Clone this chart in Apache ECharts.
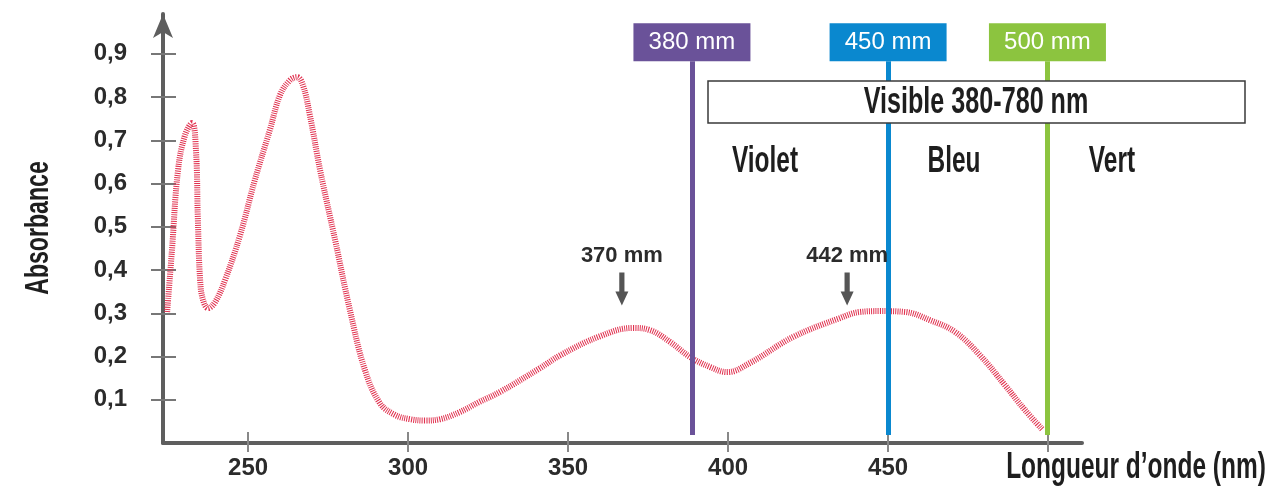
<!DOCTYPE html>
<html>
<head>
<meta charset="UTF-8">
<title>Absorbance</title>
<script src="https://cdn.jsdelivr.net/npm/echarts@6/dist/echarts.min.js"></script>
<style>
  html, body { margin: 0; padding: 0; background: #fff; }
  #chart { width: 1268px; height: 489px; }
</style>
</head>
<body>
<div id="chart"></div>
<script>
// spectre d'absorption
var wavelength = [224.7, 226.2, 228.1, 230.3, 232.5, 233.7, 234.3, 235.0, 235.9, 237.5, 239.7, 242.8, 247.5, 252.1, 256.8, 260.0, 263.1, 265.3, 267.1, 269.3, 272.5, 277.2, 281.8, 286.5, 291.2, 295.9, 300.6, 305.3, 310.0, 316.0, 322.0, 328.7, 341.2, 347.6, 360.0, 370.3, 375.6, 381.8, 388.1, 394.3, 399.7, 406.8, 420.3, 435.0, 441.2, 447.5, 455.3, 463.1, 470.9, 478.7, 486.5, 492.8, 498.4];
var absorbance = [0.303, 0.446, 0.631, 0.712, 0.740, 0.677, 0.516, 0.377, 0.331, 0.312, 0.326, 0.377, 0.481, 0.608, 0.724, 0.805, 0.839, 0.846, 0.828, 0.758, 0.631, 0.469, 0.308, 0.169, 0.092, 0.065, 0.055, 0.052, 0.055, 0.071, 0.094, 0.118, 0.173, 0.203, 0.247, 0.266, 0.261, 0.234, 0.199, 0.176, 0.164, 0.185, 0.245, 0.289, 0.303, 0.305, 0.303, 0.284, 0.257, 0.203, 0.134, 0.076, 0.030];

var xTicks = [250, 300, 350, 400, 450, 500];
var xLabels = [250, 300, 350, 400, 450];
var yTicks = [0.1, 0.2, 0.3, 0.4, 0.5, 0.6, 0.7, 0.8, 0.9];

// traits verticaux : position, texte, couleur
var markers = [
  { x: 388.7, text: '380 mm', color: '#6a5299' },
  { x: 450.0, text: '450 mm', color: '#0a88cf' },
  { x: 499.8, text: '500 mm', color: '#8cc43f' }
];
// fleches des maxima
var peaks = [
  { x: 366.8, text: '370 mm' },
  { x: 437.2, text: '442 mm' }
];

var plain = "'Liberation Sans', Arial, sans-serif";

var chart = echarts.init(document.getElementById('chart'));

var points = wavelength.map(function (w, i) { return [w, absorbance[i]]; });

var lineData = markers.map(function (m) {
  return [
    {
      coord: [m.x, 0.0185],
      lineStyle: { color: m.color, width: 5, type: 'solid' },
      label: {
        show: true,
        position: 'end',
        distance: 0,
        formatter: m.text,
        color: '#fff',
        backgroundColor: m.color,
        width: 117,
        height: 38,
        lineHeight: 38,
        align: 'center',
        fontSize: 24,
        fontFamily: plain
      }
    },
    { coord: [m.x, 0.883] }
  ];
});

var arrowData = peaks.map(function (p) {
  return {
    coord: [p.x, 0.356],
    label: {
      show: true,
      position: 'top',
      distance: 6,
      formatter: p.text,
      color: '#2b2b2b',
      fontSize: 22,
      fontWeight: 'bold',
      fontFamily: plain
    }
  };
});

// texte etroit : police normale comprimee horizontalement
function narrowText(txt, x, y, size, rot) {
  return {
    type: 'text', z: 101, x: x, y: y, rotation: rot || 0, scaleX: 0.68,
    style: { text: txt, align: 'center', verticalAlign: 'middle', fill: '#1e1e1e', font: 'bold ' + size + 'px ' + plain }
  };
}

option = {
  animation: false,
  grid: { left: 163, right: 186, top: 14, bottom: 46, containLabel: false, outerBoundsMode: 'none' },
  xAxis: [
    {
      type: 'value',
      min: 223.4,
      max: 510.6,
      axisLine: { show: true, lineStyle: { color: '#5e5e5e', width: 4 } },
      axisTick: { show: true, length: 9, customValues: xTicks, lineStyle: { color: '#888', width: 2 } },
      axisLabel: {
        customValues: xLabels,
        margin: 13,
        color: '#2b2b2b',
        fontSize: 24,
        fontWeight: 'bold',
        fontFamily: plain
      },
      splitLine: { show: false }
    },
    {
      type: 'value',
      min: 223.4,
      max: 510.6,
      position: 'bottom',
      axisLine: { show: false },
      axisTick: { show: true, inside: true, length: 11, customValues: xTicks, lineStyle: { color: '#888', width: 2 } },
      axisLabel: { show: false },
      splitLine: { show: false }
    }
  ],
  yAxis: [
    {
      type: 'value',
      min: 0,
      max: 0.992,
      axisLine: {
        show: true,
        symbol: ['none', 'arrow'],
        symbolSize: [15, 24],
        lineStyle: { color: '#5e5e5e', width: 4 }
      },
      axisTick: { show: true, length: 12, customValues: yTicks, lineStyle: { color: '#777', width: 2 } },
      axisLabel: {
        customValues: yTicks,
        margin: 36,
        color: '#2b2b2b',
        fontSize: 24,
        fontWeight: 'bold',
        fontFamily: plain,
        formatter: function (v) { return v.toFixed(1).replace('.', ','); }
      },
      splitLine: { show: false }
    },
    {
      type: 'value',
      min: 0,
      max: 0.992,
      position: 'left',
      axisLine: { show: false },
      axisTick: { show: true, inside: true, length: 13, customValues: yTicks, lineStyle: { color: '#777', width: 2 } },
      axisLabel: { show: false },
      splitLine: { show: false }
    }
  ],
  graphic: [
    {
      type: 'rect',
      z: 100,
      shape: { x: 708, y: 81, width: 537, height: 42 },
      style: { fill: '#fff', stroke: '#3a3a3a', lineWidth: 1.5 }
    },
    narrowText('Visible 380-780 nm', 976, 103, 37),
    narrowText('Violet', 765, 162, 36),
    narrowText('Bleu', 954, 162, 36),
    narrowText('Vert', 1112, 162, 36),
    narrowText('Absorbance', 39, 228, 34, Math.PI / 2),
    narrowText('Longueur d\u2019onde (nm)', 1136, 468, 36)
  ],
  series: [
    {
      type: 'line',
      data: points,
      smooth: 0.4,
      showSymbol: false,
      z: 3,
      lineStyle: { color: '#e0304e', width: 6, type: [1, 1.2], cap: 'butt' },
      markLine: {
        silent: true,
        symbol: ['none', 'none'],
        z: 5,
        data: lineData
      },
      markPoint: {
        silent: true,
        symbol: 'path://M3,0 L7,0 L7,19 L10,19 L5,33 L0,19 L3,19 Z',
        symbolSize: [13, 33],
        itemStyle: { color: '#555' },
        data: arrowData
      }
    }
  ]
};

chart.setOption(option);
window.addEventListener('resize', function () { chart.resize(); });
</script>
</body>
</html>
